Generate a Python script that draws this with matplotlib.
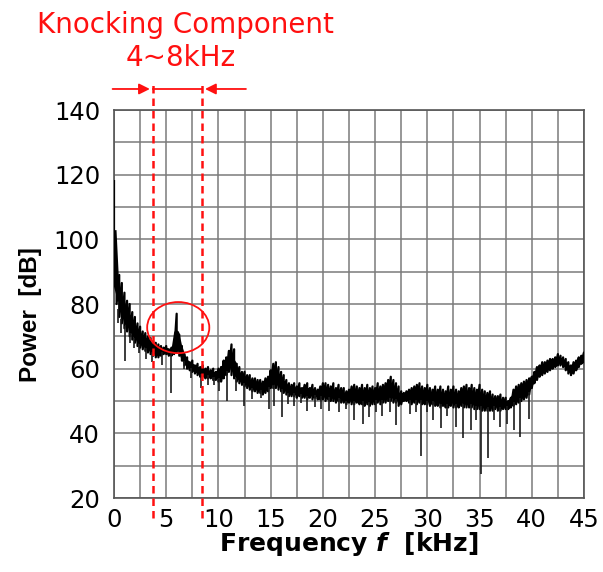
import numpy as np
import matplotlib
matplotlib.use("Agg")
import matplotlib.pyplot as plt
from matplotlib.patches import Ellipse

# スペクトルの帯（0.25 kHz 刻み、上端と下端を図から読み取り）
freq_step = 0.25
power_hi = [
    118, 91, 89, 86.5,
    83.5, 81, 80, 77.5,
    76, 74, 73, 71.5,
    71, 70, 69.5, 68.5,
    68, 67.5, 67, 66.5,
    67, 66, 66.5, 67,
    77, 70.5, 67, 64.5,
    63.5, 62, 62.5, 61,
    61.5, 60.5, 61, 60,
    60.5, 59.5, 60, 59,
    60, 60.5, 62.5, 63.5,
    65.5, 67.5, 66, 61.5,
    60.5, 59, 59, 58,
    58, 57, 57, 56.5,
    56.5, 56, 57, 57.5,
    59.5, 61.5, 62, 60.5,
    59, 58, 56.5, 55.5,
    55, 55.5, 54.5, 55.5,
    54, 55, 55.5, 54,
    55, 54, 53.5, 54.5,
    55.5, 55.5, 55, 54.5,
    55.5, 54, 55, 54,
    54, 53, 53.5, 54.5,
    55, 54.5, 54, 55,
    54, 55, 54, 54.5,
    54, 55.5, 54.5, 55,
    55.5, 56.5, 57.5, 56.5,
    55.5, 54.5, 53, 52.5,
    53, 53.5, 54, 54.5,
    55, 55.5, 54.5, 54,
    55, 54, 53.5, 54.5,
    53.5, 54.5, 53.5, 53,
    54.5, 53.5, 54.5, 53.5,
    53, 54, 54.5, 55,
    54, 55, 54, 53.5,
    55, 53.5, 53, 52.5,
    53, 52, 51.5, 51.5,
    52, 51, 51, 50,
    51, 53.5, 54.5, 55,
    55.5, 56, 56.5, 57,
    57.5, 59, 60.5, 61,
    62, 62, 62.5, 63,
    63, 63.5, 64.5, 64,
    63.5, 63, 62, 61,
    62, 62.5, 63.5, 64,
    65,
]
power_lo = [
    86, 80, 76, 74,
    72.5, 71.5, 70, 69,
    68, 67, 66.5, 66,
    65.5, 65, 64.5, 64,
    63.5, 63.5, 64, 64.5,
    64.5, 64, 64, 64.5,
    65, 64, 62.5, 61,
    60, 59.5, 59, 58.5,
    58, 57.5, 57.5, 57,
    57, 57, 56.5, 56.5,
    56, 56, 57, 58,
    59, 58, 57, 56,
    55.5, 55, 54.5, 54,
    53.5, 53, 53, 52.5,
    52.5, 52, 52.5, 53,
    54, 54, 54, 53.5,
    53, 52.5, 52, 51.5,
    51.5, 51.5, 51, 51.5,
    51, 51, 50.5, 51,
    50.5, 51, 50.5, 50.5,
    50.5, 50, 50.5, 50,
    50, 49.5, 50, 49.5,
    49.5, 49, 49.5, 49,
    49, 49.5, 49, 49,
    48.5, 49, 48.5, 49,
    49, 49.5, 49, 49.5,
    49.5, 50, 50, 49.5,
    49.5, 48.5, 49, 50,
    50, 49.5, 49, 49.5,
    49, 49.5, 49, 49,
    49, 48.5, 49, 48.5,
    48.5, 48, 48.5, 48,
    48, 48.5, 48, 48,
    48, 48.5, 48, 48,
    48, 48, 47.5, 47.5,
    47.5, 47, 47, 47,
    47, 47, 47.5, 47,
    47, 47.5, 47.5, 47.5,
    48, 48.5, 49, 49.5,
    50, 50.5, 51, 52,
    54, 55.5, 56.5, 57.5,
    58, 58.5, 59, 59.5,
    60, 60.5, 61, 61,
    60.5, 59.5, 58.5, 58,
    58.5, 59.5, 60.5, 61.5,
    62,
]

# 下向きのスパイク（周波数 kHz, 最小値 dB）
spike_f = [0.4, 0.7, 1.1, 1.5, 1.9, 2.4, 3.1, 3.6, 4.6, 5.5, 6.7, 7.4, 8.3,
           9.0, 9.6, 10.1, 10.8, 11.7, 12.4, 13.2, 14.1, 14.8, 15.3, 16.1,
           16.7, 17.2, 17.9, 18.5, 19.2, 19.8, 20.6, 21.5, 22.2, 23.0, 23.8,
           24.4, 25.1, 25.7, 26.4, 27.0, 28.3, 28.9, 29.4, 30.0, 30.5, 31.3,
           31.9, 32.7, 33.4, 34.2, 34.7, 35.1, 35.8, 36.4, 37.0, 37.6, 38.3,
           38.9, 39.7]
spike_db = [74, 71, 62.5, 68, 66.5, 65, 63, 62, 61, 52.5, 60, 57, 54,
            55, 55, 53, 50, 53, 48.5, 50.5, 51, 47.5, 48.5, 45,
            49, 48.5, 49.5, 47, 48, 47.5, 47, 46.5, 47.5, 44, 43,
            45, 46.5, 45.5, 46.5, 42.5, 46, 46.5, 33, 46.5, 44, 41.5,
            45.5, 42, 38.5, 41, 44, 27.5, 32.5, 44, 42, 43, 41,
            39, 44.5]

# ノッキング成分の帯域表示
band_left = 3.7
band_right = 8.45
peak_center = (6.15, 72.7)
peak_size = (5.95, 15.8)

freq = np.arange(len(power_hi)) * freq_step
hi = np.array(power_hi)
lo = np.array(power_lo)

fig = plt.figure(figsize=(6.03, 5.72), dpi=100)
ax = fig.add_axes([114 / 603, 1 - 498 / 572, 470 / 603, 388 / 572])

# グリッド
ax.set_xlim(0, 45)
ax.set_ylim(20, 140)
ax.set_xticks(np.arange(0, 46, 5))
ax.set_xticks(np.arange(0, 45.1, 2.5), minor=True)
ax.set_yticks(np.arange(20, 141, 20))
ax.set_yticks(np.arange(20, 141, 10), minor=True)
ax.grid(True, which="both", color="#7a7a7a", lw=1.1)
ax.set_axisbelow(True)
for s in ax.spines.values():
    s.set_color("#555555")
    s.set_linewidth(1.2)
ax.tick_params(which="both", length=0)
ax.tick_params(axis="y", pad=10, labelsize=17.5)
ax.tick_params(axis="x", pad=7, labelsize=17.5)

# スペクトル（上端と下端をジグザグに結ぶ）
xs = np.repeat(freq, 2)
ys = np.column_stack([hi, lo]).ravel()
ax.plot(xs, ys, color="black", lw=1.6, zorder=3)
ax.plot(freq, (hi + lo) / 2, color="black", lw=3.8, zorder=3)
ax.vlines(spike_f, spike_db, np.interp(spike_f, freq, lo) + 1.0,
          color="#1a1a1a", lw=1.2, zorder=3)

# 赤い注釈
red = "#ff1010"
for xb in (band_left, band_right):
    ax.plot([xb, xb], [13.8, 148.5], color=red, lw=1.8,
            ls=(0, (3, 2)), clip_on=False, zorder=5)
arrow_y = 146.5
ax.plot([band_left, band_right], [arrow_y, arrow_y], color=red, lw=1.3,
        clip_on=False)
ax.annotate("", xy=(band_left, arrow_y), xytext=(-0.4, arrow_y),
            arrowprops=dict(arrowstyle="-|>", color=red, lw=1.3,
                            mutation_scale=16),
            annotation_clip=False)
ax.annotate("", xy=(band_right, arrow_y), xytext=(12.9, arrow_y),
            arrowprops=dict(arrowstyle="-|>", color=red, lw=1.3,
                            mutation_scale=16),
            annotation_clip=False)
ax.add_patch(Ellipse(peak_center, peak_size[0], peak_size[1], fill=False,
                     edgecolor=red, lw=1.3, zorder=6))

fig.text(185 / 603, 1 - 33 / 572, "Knocking Component", color=red,
         fontsize=20, ha="center", va="baseline")
fig.text(181 / 603, 1 - 66 / 572, "4~8kHz", color=red,
         fontsize=20, ha="center", va="baseline")

# 軸ラベル
fig.text(349 / 603, 1 - 551 / 572, r"Frequency $\mathbfit{f}$  [kHz]",
         fontsize=18, fontweight="bold", ha="center", va="baseline")
fig.text(30 / 603, 1 - 315 / 572, "Power  [dB]", family="Liberation Sans",
         fontsize=17.5, fontweight="bold", rotation=90,
         ha="center", va="center")

fig.savefig("out.png", dpi=100)
